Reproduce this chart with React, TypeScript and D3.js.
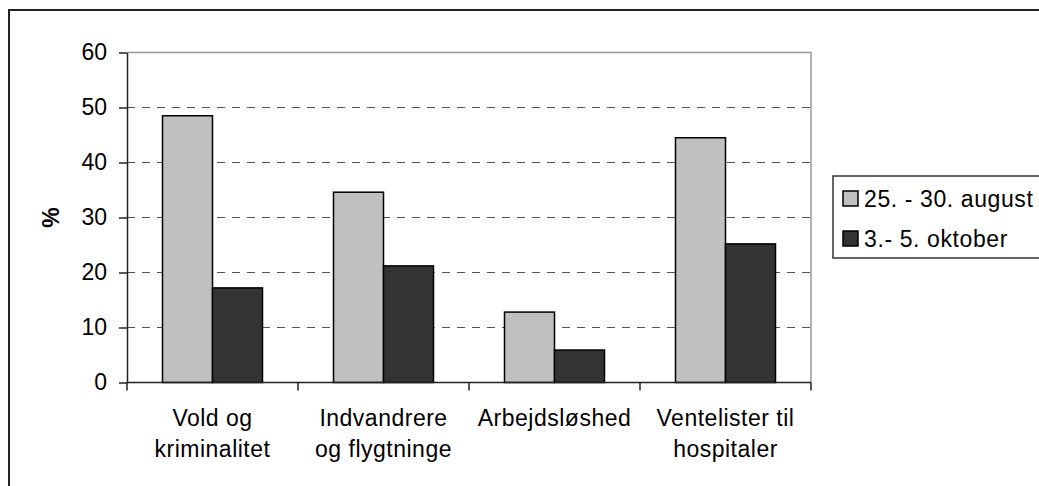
import React, { useEffect, useRef } from 'react';
import * as d3 from 'd3';

const categories = ['Vold og kriminalitet', 'Indvandrere og flygtninge', 'Arbejdsløshed', 'Ventelister til hospitaler'];
const categoryLines = [['Vold og', 'kriminalitet'], ['Indvandrere', 'og flygtninge'], ['Arbejdsløshed'], ['Ventelister til', 'hospitaler']];
const seriesNames = ['25. - 30. august', '3.- 5. oktober'];
const august = [48.5, 34.6, 12.8, 44.5];
const oktober = [17.2, 21.2, 5.9, 25.2];
const yTicks = [0, 10, 20, 30, 40, 50, 60];
const seriesColors = ['#c0c0c0', '#333333'];

const App = () => {
  const chartRef = useRef<SVGSVGElement>(null);

  useEffect(() => {
    const svg = d3.select(chartRef.current);
    svg.selectAll('*').remove();

    const font = '"Liberation Sans", Arial, sans-serif';
    const left = 127, right = 811, top = 52.5, bottom = 382.5;

    // outer chart frame (runs past right/bottom edge)
    svg.append('rect')
      .attr('x', 9).attr('y', 10)
      .attr('width', 1200).attr('height', 600)
      .attr('fill', 'white')
      .attr('stroke', '#222').attr('stroke-width', 2);

    const x0 = d3.scaleBand().domain(categories).range([left, right]).paddingInner(0).paddingOuter(0);
    const x1 = d3.scaleBand().domain(seriesNames).range([0, x0.bandwidth()]).paddingInner(0).paddingOuter(0.71);
    const y = d3.scaleLinear().domain([0, 60]).range([bottom, top]);

    // gridlines
    svg.append('g')
      .selectAll('line')
      .data(yTicks.filter(d => d > 0 && d < 60))
      .join('line')
        .attr('x1', left).attr('x2', right)
        .attr('y1', d => y(d)).attr('y2', d => y(d))
        .attr('stroke', '#555').attr('stroke-width', 1)
        .attr('stroke-dasharray', '8,7');

    // plot top + right border
    svg.append('path')
      .attr('d', `M${left},${y(60)}H${right}V${bottom}`)
      .attr('fill', 'none').attr('stroke', '#999').attr('stroke-width', 1.5);

    const data = categories.map((c, i) => ({ c, vals: [august[i], oktober[i]] }));

    svg.append('g')
      .selectAll('g')
      .data(data)
      .join('g')
        .attr('transform', d => `translate(${x0(d.c)},0)`)
      .selectAll('rect')
      .data(d => d.vals.map((v, j) => ({ s: seriesNames[j], v, j })))
      .join('rect')
        .attr('x', d => x1(d.s))
        .attr('y', d => y(d.v))
        .attr('width', x1.bandwidth())
        .attr('height', d => y(0) - y(d.v))
        .attr('fill', d => seriesColors[d.j])
        .attr('stroke', '#000').attr('stroke-width', 1.5);

    // y axis
    const yAxis = svg.append('g')
      .attr('transform', `translate(${left},0)`)
      .call(d3.axisLeft(y).tickValues(yTicks).tickSize(8).tickSizeOuter(0).tickPadding(12));
    yAxis.select('.domain').attr('stroke', '#222').attr('stroke-width', 1.5);
    yAxis.selectAll('.tick line').attr('stroke', '#222').attr('stroke-width', 1.5);
    yAxis.selectAll('text')
      .attr('font-family', font).attr('font-size', 23).attr('fill', '#000');

    // x axis
    const xAxis = svg.append('g')
      .attr('transform', `translate(0,${bottom})`);
    xAxis.append('line')
      .attr('x1', left).attr('x2', right)
      .attr('stroke', '#222').attr('stroke-width', 1.5);
    xAxis.selectAll('line.tk')
      .data([...categories.map(c => x0(c)), right])
      .join('line')
        .attr('class', 'tk')
        .attr('x1', d => d).attr('x2', d => d)
        .attr('y1', 0).attr('y2', 8)
        .attr('stroke', '#222').attr('stroke-width', 1.5);

    const labels = svg.append('g');
    categories.forEach((c, i) => {
      const t = labels.append('text')
        .attr('x', x0(c) + x0.bandwidth() / 2)
        .attr('y', 426)
        .attr('text-anchor', 'middle')
        .attr('font-family', font).attr('font-size', 23)
        .attr('letter-spacing', 0.5);
      categoryLines[i].forEach((line, k) => {
        t.append('tspan')
          .attr('x', x0(c) + x0.bandwidth() / 2)
          .attr('dy', k === 0 ? 0 : 31)
          .text(line);
      });
    });

    // y axis title
    svg.append('text')
      .attr('transform', `translate(59,${(top + bottom) / 2}) rotate(-90)`)
      .attr('text-anchor', 'middle')
      .attr('font-family', font).attr('font-size', 23).attr('font-weight', 'bold')
      .text('%');

    // legend
    const lg = svg.append('g');
    lg.append('rect')
      .attr('x', 833).attr('y', 176).attr('width', 300).attr('height', 82)
      .attr('fill', 'white').attr('stroke', '#333').attr('stroke-width', 1.5);
    seriesNames.forEach((s, i) => {
      const cy = 199 + i * 40;
      lg.append('rect')
        .attr('x', 843).attr('y', cy - 8).attr('width', 15).attr('height', 15)
        .attr('fill', seriesColors[i]).attr('stroke', '#000').attr('stroke-width', 1.5);
      lg.append('text')
        .attr('x', 864).attr('y', cy + 8)
        .attr('font-family', font).attr('font-size', 23)
        .attr('letter-spacing', 0.6)
        .text(s);
    });
  }, []);

  return (
    <svg ref={chartRef} width={1039} height={486}
      style={{ position: 'absolute', left: 0, top: 0, background: 'white' }} />
  );
};

export default App;
